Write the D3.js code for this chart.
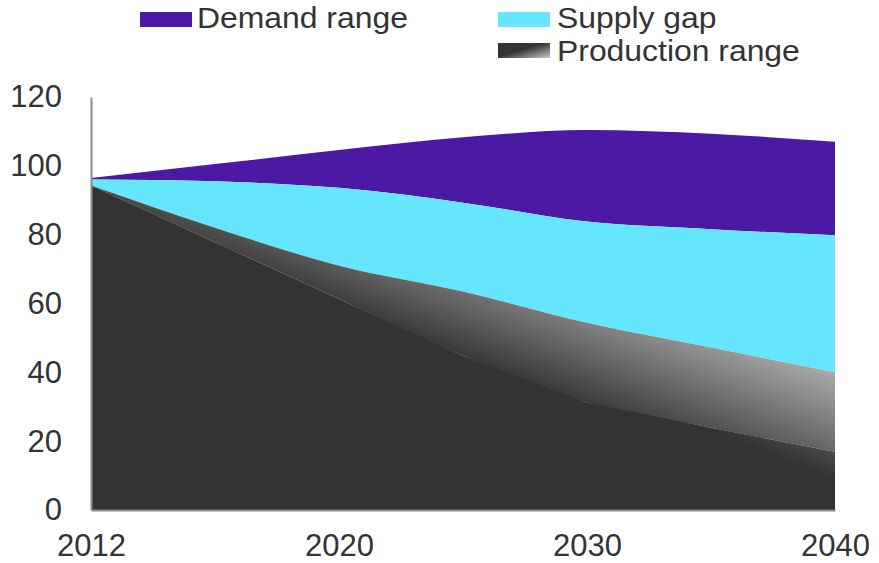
<!DOCTYPE html>
<html>
<head>
<meta charset="utf-8">
<script src="https://cdn.jsdelivr.net/npm/d3@7"></script>
<style>
  html, body { margin: 0; padding: 0; background: #fff; }
  svg { display: block; font-family: "Liberation Sans", Arial, sans-serif; }
</style>
</head>
<body>
<svg id="chart" width="879" height="563"></svg>
<script>
// ---- data ----
const categories  = ["2012", "2016", "2020", "2025", "2030", "2035", "2040"];
const demandHigh  = [96.5, 100.5, 104.6, 108.3, 110.4, 109.3, 107.0];
const demandLow   = [96.0, 95.5, 93.6, 89.3, 83.8, 81.6, 79.8];
const prodHigh    = [94.3, 82.0, 71.0, 63.5, 54.4, 47.2, 40.0];
const prodLow     = [94.3, 77.8, 61.3, 44.8, 31.2, 23.9, 16.9];
const yTicks      = [0, 20, 40, 60, 80, 100, 120];
const xTicks      = ["2012", "2020", "2030", "2040"];
const legendItems = ["Demand range", "Supply gap", "Production range"];

const colors = { demand: "#4b19a3", gap: "#66e6fc", dark: "#333333" };

const svg = d3.select("#chart");
const x = d3.scalePoint().domain(categories).range([91, 835]);
const y = d3.scaleLinear().domain([0, 120]).range([510, 97]);

const rows = categories.map((c, i) => ({
  c, dh: demandHigh[i], dl: demandLow[i], ph: prodHigh[i], pl: prodLow[i]
}));

// gradients
const defs = svg.append("defs");
const dvx = 0.342, dvy = -0.85, dd = dvx * dvx + dvy * dvy;
function gradPts(anchorX, anchorY, anchorC, c0, c1) {
  const t0 = (c0 - anchorC) / dd, t1 = (c1 - anchorC) / dd;
  return [anchorX + t0 * dvx, anchorY + t0 * dvy, anchorX + t1 * dvx, anchorY + t1 * dvy];
}
function makeGrad(id, pts) {
  const g = defs.append("linearGradient").attr("id", id)
    .attr("gradientUnits", "userSpaceOnUse")
    .attr("x1", pts[0]).attr("y1", pts[1]).attr("x2", pts[2]).attr("y2", pts[3]);
  g.append("stop").attr("offset", 0).attr("stop-color", "#333333");
  g.append("stop").attr("offset", 1).attr("stop-color", "#b0b0b0");
}
makeGrad("bandGrad", gradPts(x("2040"), y(40), 170, 51, 176));
makeGrad("lowGrad", gradPts(x("2040"), y(40), 142, 51, 176));

const lg = defs.append("linearGradient").attr("id", "legGrad")
  .attr("x1", 0).attr("y1", 0).attr("x2", 1).attr("y2", 1);
lg.append("stop").attr("offset", 0.45).attr("stop-color", "#333333");
lg.append("stop").attr("offset", 1).attr("stop-color", "#c8c8c8");

const smooth = d3.curveMonotoneX;

svg.append("path").datum(rows)
  .attr("fill", colors.demand)
  .attr("d", d3.area().curve(smooth).x(d => x(d.c)).y0(d => y(d.dl)).y1(d => y(d.dh)));
svg.append("path").datum(rows)
  .attr("fill", colors.gap)
  .attr("d", d3.area().curve(smooth).x(d => x(d.c)).y0(d => y(d.ph)).y1(d => y(d.dl)));
svg.append("path").datum(rows)
  .attr("fill", "url(#bandGrad)")
  .attr("d", d3.area().curve(smooth).x(d => x(d.c)).y0(d => y(d.pl)).y1(d => y(d.ph)));
svg.append("path").datum(rows)
  .attr("fill", "url(#lowGrad)")
  .attr("d", d3.area().curve(d3.curveLinear).x(d => x(d.c)).y0(y(0)).y1(d => y(d.pl)));

// axes
const yAxis = svg.append("g").attr("transform", `translate(${x("2012")},0)`)
  .call(d3.axisLeft(y).tickValues(yTicks).tickSize(0).tickPadding(29).tickFormat(d3.format("d")));
const xAxis = svg.append("g").attr("transform", `translate(0,${y(0)})`)
  .call(d3.axisBottom(x).tickValues(xTicks).tickSize(0).tickPadding(24));
[yAxis, xAxis].forEach(a => {
  a.select(".domain").attr("stroke", "#8c8c8c").attr("stroke-width", 2);
  a.selectAll("text").attr("font-size", 31).attr("fill", "#333333")
    .attr("font-family", "'Liberation Sans', Arial, sans-serif");
});

// legend
const legPos = [
  { sx: 140, sy: 12, tx: 197, ty: 28, fill: colors.demand },
  { sx: 498, sy: 12, tx: 557, ty: 28, fill: colors.gap },
  { sx: 498, sy: 43, tx: 557, ty: 61, fill: "url(#legGrad)" }
];
const leg = svg.append("g");
legendItems.forEach((name, i) => {
  const p = legPos[i];
  leg.append("rect").attr("x", p.sx).attr("y", p.sy).attr("width", 52).attr("height", 15).attr("fill", p.fill);
  leg.append("text")
    .attr("transform", `translate(${p.tx},${p.ty}) scale(1.1,1)`)
    .attr("font-size", 29)
    .attr("fill", "#333333").text(name);
});
</script>
</body>
</html>
